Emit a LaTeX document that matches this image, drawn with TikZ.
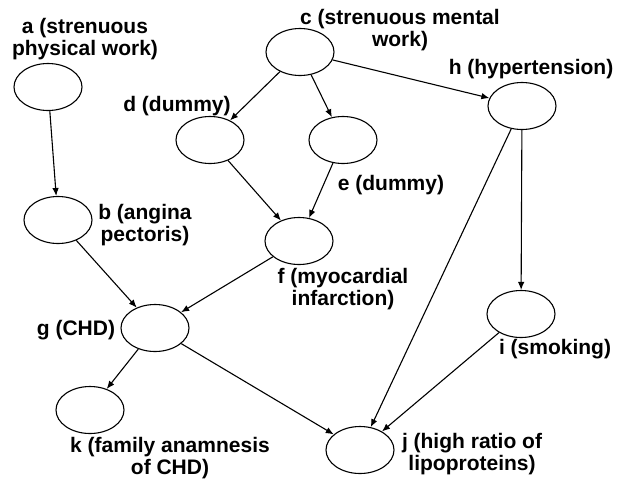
\documentclass[tikz,border=0pt]{standalone}
\usepackage{fontspec}
\setmainfont{Liberation Sans}
\usetikzlibrary{shapes.geometric,arrows.meta}
\begin{document}
\begin{tikzpicture}[x=1pt,y=-1pt,
  var/.style={ellipse,draw,line width=1.1pt,minimum width=68pt,minimum height=47pt,inner sep=0pt},
  lbl/.style={align=center,inner sep=0pt,font=\fontsize{21}{22}\selectfont\bfseries},
  edge/.style={line width=1.1pt,-{Latex[length=8pt,width=6.5pt]}}]
\useasboundingbox (0,0) rectangle (620,482);
% variables
\node[var] (a) at (48,87) {};
\node[var] (b) at (58,220) {};
\node[var] (c) at (300,52) {};
\node[var] (d) at (210,140) {};
\node[var] (e) at (343,140) {};
\node[var] (f) at (299,241) {};
\node[var] (g) at (155,328) {};
\node[var] (h) at (522,106) {};
\node[var] (i) at (521,314) {};
\node[var] (k) at (90,410) {};
\node[var] (j) at (360,450) {};
% names
\node[lbl] (la) at (85,39) {a (strenuous\\physical work)};
\node[lbl] (lb) at (145,225) {b (angina\\pectoris)};
\node[lbl] (lc) at (400,30) {c (strenuous mental\\work)};
\node[lbl] (ld) at (177,106) {d (dummy)};
\node[lbl] (le) at (391,185) {e (dummy)};
\node[lbl] (lh) at (531,69) {h (hypertension)};
\node[lbl] (lf) at (343,289) {f (myocardial\\infarction)};
\node[lbl] (lg) at (76,330) {g (CHD)};
\node[lbl] (li) at (555,349) {i (smoking)};
\node[lbl] (lj) at (472,454) {j (high ratio of\\lipoproteins)};
\node[lbl] (lk) at (170,458) {k (family anamnesis\\of CHD)};
% dependencies
\draw[edge] (a) -- (b);
\draw[edge] (c) -- (d);
\draw[edge] (c) -- (e);
\draw[edge] (c) -- (h);
\draw[edge] (d) -- (f);
\draw[edge] (e) -- (f);
\draw[edge] (b) -- (g);
\draw[edge] (f) -- (g);
\draw[edge] (g) -- (k);
\draw[edge] (g) -- (j);
\draw[edge] (h) -- (j);
\draw[edge] (h) -- (i);
\draw[edge] (i) -- (j);
\end{tikzpicture}
\end{document}
